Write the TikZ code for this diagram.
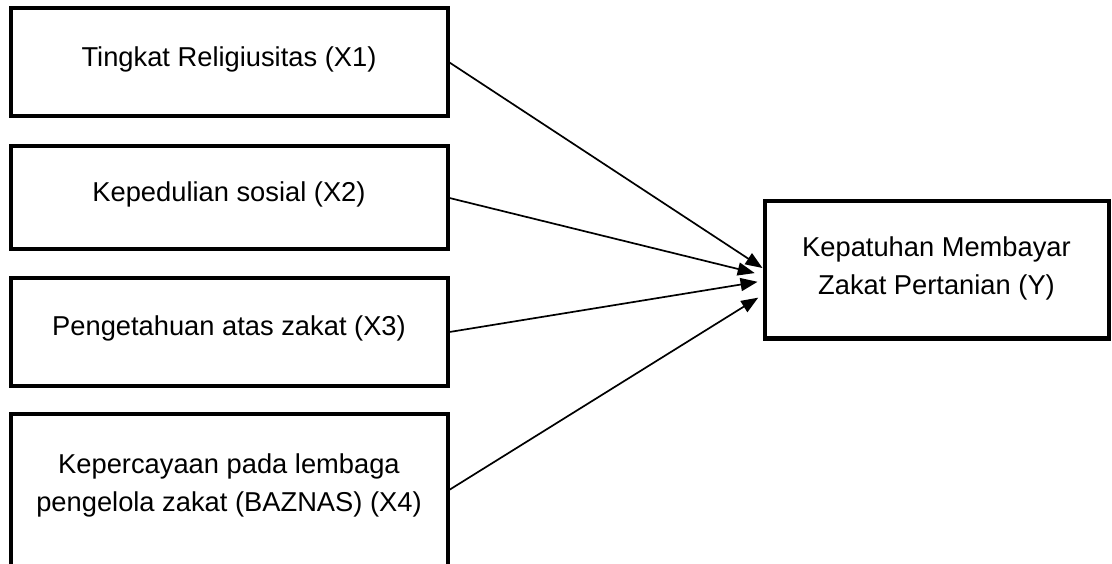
\documentclass[tikz,border=0pt]{standalone}
\usepackage{fontspec}
\setmainfont{Liberation Sans}
\usetikzlibrary{arrows.meta,positioning}
\tikzset{
  varbox/.style={draw, line width=4pt, minimum width=437pt, inner sep=0pt},
  vartext/.style={anchor=base, align=center, font=\fontsize{27.3}{38}\selectfont},
  link/.style={line width=1.7pt, -{Triangle[length=17pt,width=13pt]}},
}

\begin{document}
\begin{tikzpicture}[x=1pt,y=-1pt]
    \useasboundingbox (0,0) rectangle (1112,564);

    % Boxes
    \node[varbox, minimum height=108pt] (X1) at (229,62.5) {};
    \node[varbox, minimum height=103pt] (X2) at (229,198) {};
    \node[varbox, minimum height=107pt] (X3) at (229,332) {};
    \node[varbox, minimum height=152.5pt] (X4) at (229,489.75) {};
    \node[varbox, minimum width=344pt, minimum height=137pt] (Y) at (936.5,270) {};

    % Labels (base = last line)
    \node[vartext] (T1) at ([yshift=-60pt]X1.north) {Tingkat Religiusitas (X1)};
    \node[vartext] (T2) at ([yshift=-57pt]X2.north) {Kepedulian sosial (X2)};
    \node[vartext] (T3) at ([yshift=-59pt]X3.north) {Pengetahuan atas zakat (X3)};
    \node[vartext] (T4) at ([yshift=-100pt]X4.north) {Kepercayaan pada lembaga\\pengelola zakat (BAZNAS) (X4)};
    \node[vartext] (TY) at ([yshift=-95pt]Y.north) {Kepatuhan Membayar\\Zakat Pertanian (Y)};

    % Arrows
    \draw[link] (X1.east) -- ([yshift=2pt]Y.west);
    \draw[link, shorten >=8pt] (X2.east) -- ([yshift=-5pt]Y.west);
    \draw[link, shorten >=5pt] (X3.east) -- ([yshift=-11pt]Y.west);
    \draw[link, shorten >=5pt] (X4.east) -- ([yshift=-25pt]Y.west);
\end{tikzpicture}
\end{document}
